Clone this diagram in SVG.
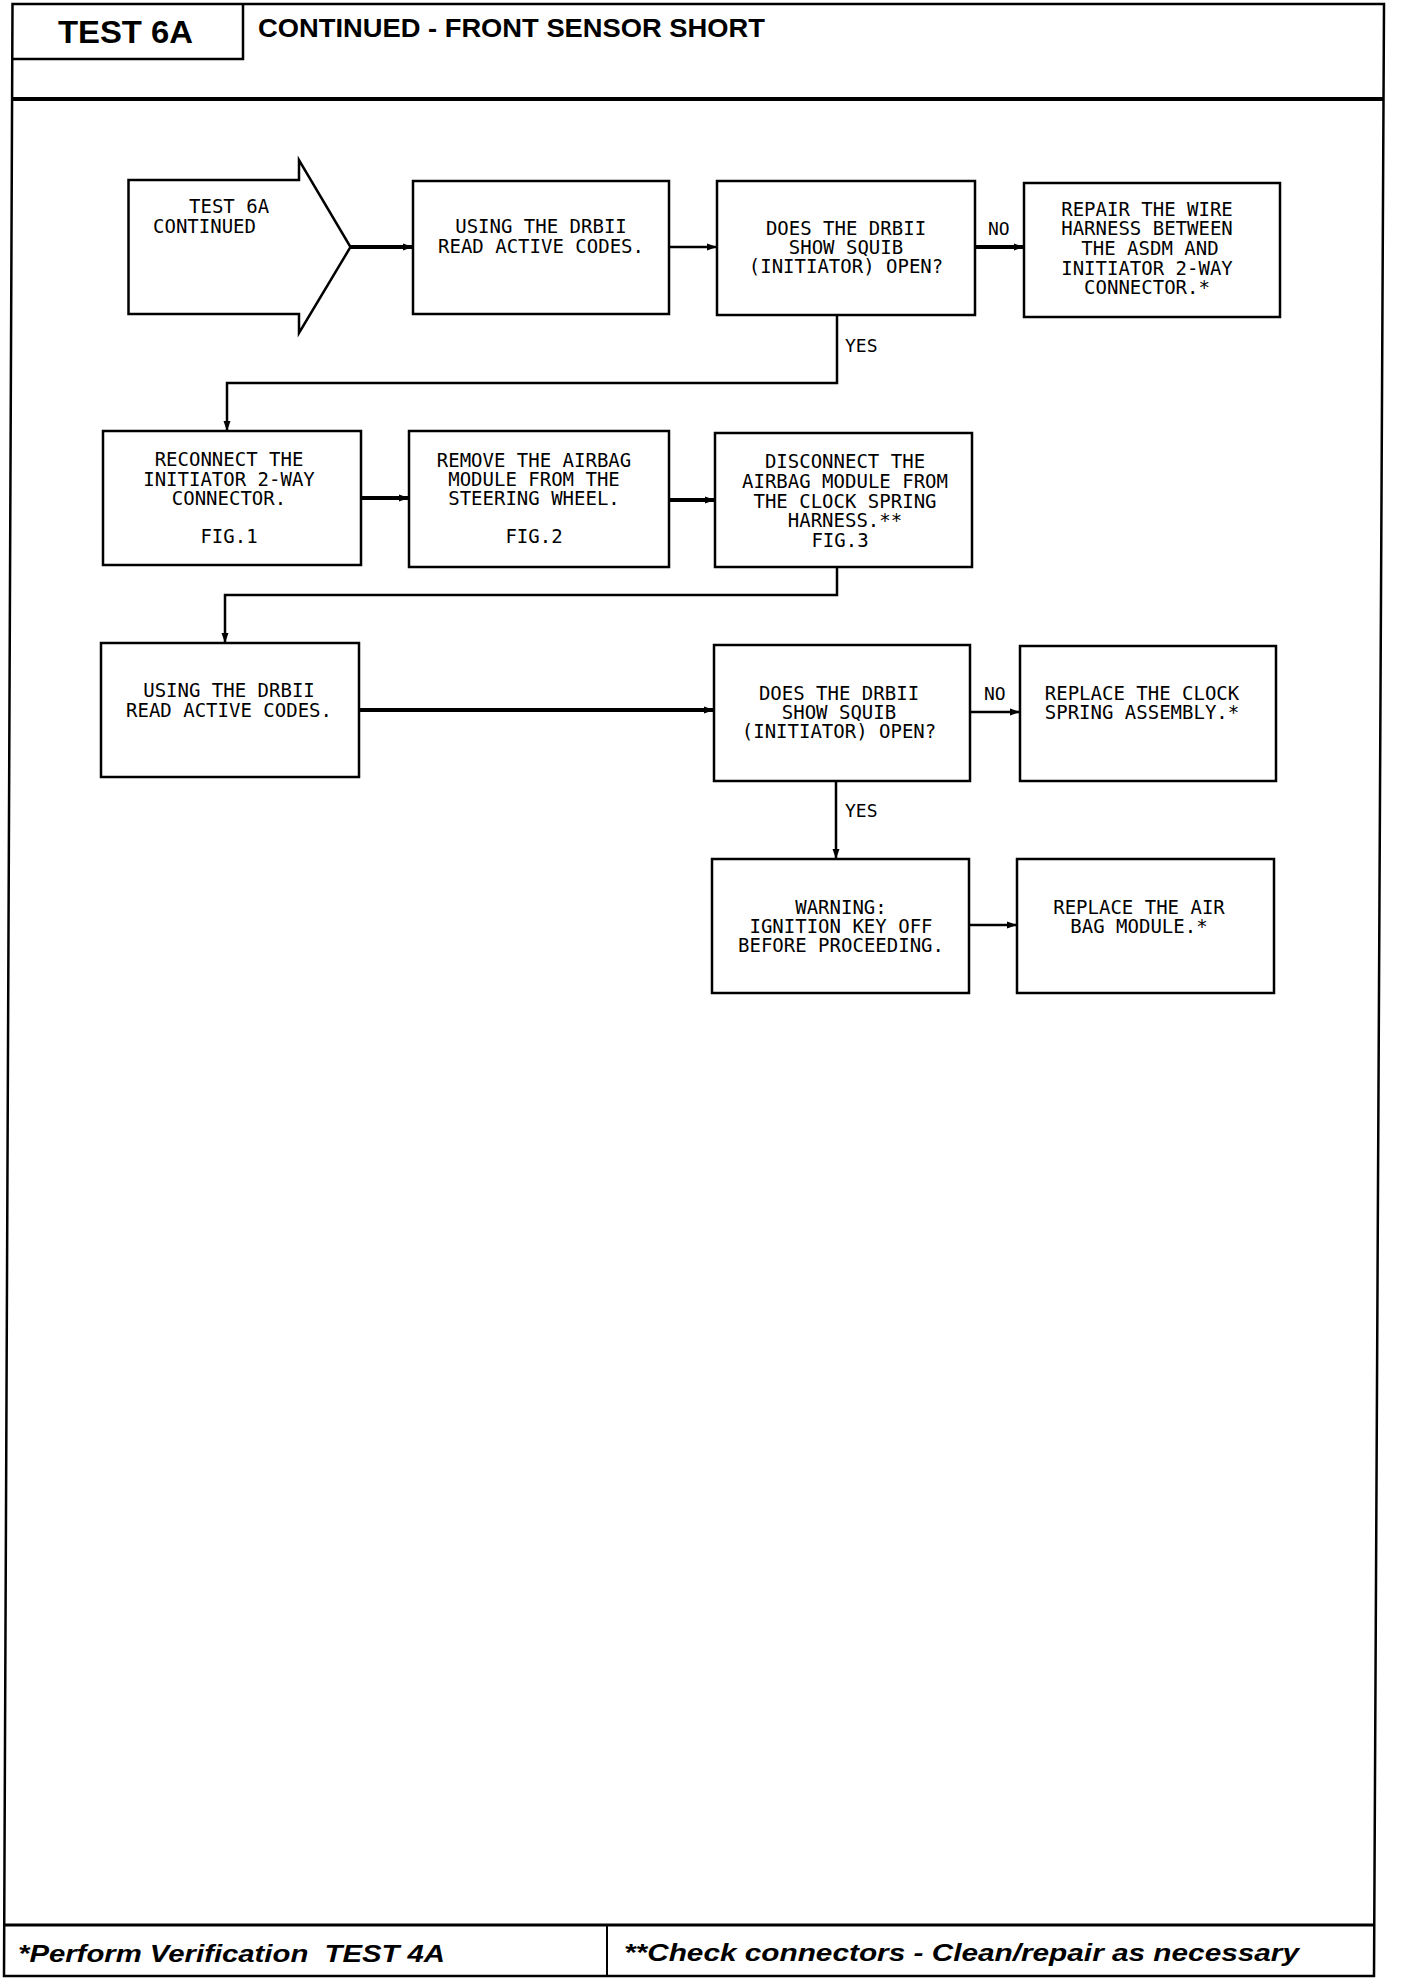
<svg xmlns="http://www.w3.org/2000/svg" width="1408" height="1978" viewBox="0 0 1408 1978">
<defs>
<style>
.frame{fill:none;stroke:#000;stroke-width:2.5}
.box{fill:#fff;stroke:#000;stroke-width:2.5}
.con{fill:none;stroke:#000;stroke-width:2.5}
.thick{stroke-width:4}
.t{font-family:"DejaVu Sans Mono","Liberation Mono",monospace;font-size:19px;fill:#000;text-anchor:middle}
.ts{font-family:"DejaVu Sans Mono","Liberation Mono",monospace;font-size:19px;fill:#000}
.lbl{font-family:"DejaVu Sans Mono","Liberation Mono",monospace;font-size:18px;fill:#000}
.hd{font-family:"Liberation Sans",Arial,sans-serif;font-weight:bold;fill:#000}
.ft{font-family:"Liberation Sans",Arial,sans-serif;font-weight:bold;font-style:italic;font-size:24px;fill:#000}
</style>
<marker id="ah" markerWidth="10" markerHeight="8" refX="9" refY="4" orient="auto" markerUnits="userSpaceOnUse">
<path d="M0,0.5 L10,4 L0,7.5 Z" fill="#000"/>
</marker>
</defs>
<rect width="1408" height="1978" fill="#fff"/>

<g id="page-frame">
<path class="frame" d="M12.5,4 L1384,4 L1374,1976 L4,1976 Z"/>
<line x1="12" y1="99" x2="1383" y2="99" stroke="#000" stroke-width="4"/>
<path class="frame" d="M12.5,59 L243,59 L243,4"/>
<line x1="5" y1="1925" x2="1374" y2="1925" stroke="#000" stroke-width="3"/>
<line x1="607" y1="1925" x2="607" y2="1976" stroke="#000" stroke-width="2"/>
</g>

<g id="header">
<text class="hd" x="58" y="43" font-size="32" textLength="135" lengthAdjust="spacingAndGlyphs">TEST 6A</text>
<text class="hd" x="258" y="37" font-size="25" textLength="507" lengthAdjust="spacingAndGlyphs">CONTINUED - FRONT SENSOR SHORT</text>
</g>

<g id="footer">
<text class="ft" x="18" y="1962" textLength="427" lengthAdjust="spacingAndGlyphs" xml:space="preserve">*Perform Verification  TEST 4A</text>
<text class="ft" x="624" y="1961" textLength="675" lengthAdjust="spacingAndGlyphs">**Check connectors - Clean/repair as necessary</text>
</g>

<g id="connectors">
<line class="con thick" x1="350" y1="247" x2="412" y2="247" marker-end="url(#ah)"/>
<line class="con" x1="669" y1="247" x2="716" y2="247" marker-end="url(#ah)"/>
<line class="con thick" x1="975" y1="247" x2="1023" y2="247" marker-end="url(#ah)"/>
<path class="con" d="M837,315 L837,383 L227,383 L227,430" marker-end="url(#ah)"/>
<line class="con thick" x1="361" y1="498" x2="408" y2="498" marker-end="url(#ah)"/>
<line class="con thick" x1="669" y1="500" x2="714" y2="500" marker-end="url(#ah)"/>
<path class="con" d="M837,567 L837,595 L225,595 L225,642" marker-end="url(#ah)"/>
<line class="con thick" x1="359" y1="710" x2="713" y2="710" marker-end="url(#ah)"/>
<line class="con" x1="970" y1="712" x2="1019" y2="712" marker-end="url(#ah)"/>
<line class="con" x1="836" y1="781" x2="836" y2="858" marker-end="url(#ah)"/>
<line class="con" x1="969" y1="925" x2="1016" y2="925" marker-end="url(#ah)"/>
<text class="lbl" x="988" y="235">NO</text>
<text class="lbl" x="845" y="352">YES</text>
<text class="lbl" x="984" y="700">NO</text>
<text class="lbl" x="845" y="817">YES</text>
</g>

<g id="n-start">
<path class="box" d="M128.5,180 L299,180 L299,160 L350.5,247 L299,333 L299,314 L128.5,314 Z"/>
<text class="ts" x="189" y="213">TEST 6A</text>
<text class="ts" x="153" y="233">CONTINUED</text>
</g>

<g id="n-read1">
<rect class="box" x="413" y="181" width="256" height="133"/>
<text class="t" x="541" y="233">USING THE DRBII</text>
<text class="t" x="541" y="253">READ ACTIVE CODES.</text>
</g>

<g id="n-q1">
<rect class="box" x="717" y="181" width="258" height="134"/>
<text class="t" x="846" y="235">DOES THE DRBII</text>
<text class="t" x="846" y="254">SHOW SQUIB</text>
<text class="t" x="846" y="273">(INITIATOR) OPEN?</text>
</g>

<g id="n-repair">
<rect class="box" x="1024" y="183" width="256" height="134"/>
<text class="t" x="1147" y="216">REPAIR THE WIRE</text>
<text class="t" x="1147" y="235">HARNESS BETWEEN</text>
<text class="t" x="1150" y="255">THE ASDM AND</text>
<text class="t" x="1147" y="275">INITIATOR 2-WAY</text>
<text class="t" x="1147" y="294">CONNECTOR.*</text>
</g>

<g id="n-reconnect">
<rect class="box" x="103" y="431" width="258" height="134"/>
<text class="t" x="229" y="466">RECONNECT THE</text>
<text class="t" x="229" y="486">INITIATOR 2-WAY</text>
<text class="t" x="229" y="505">CONNECTOR.</text>
<text class="t" x="229" y="543">FIG.1</text>
</g>

<g id="n-remove">
<rect class="box" x="409" y="431" width="260" height="136"/>
<text class="t" x="534" y="467">REMOVE THE AIRBAG</text>
<text class="t" x="534" y="486">MODULE FROM THE</text>
<text class="t" x="534" y="505">STEERING WHEEL.</text>
<text class="t" x="534" y="543">FIG.2</text>
</g>

<g id="n-disconnect">
<rect class="box" x="715" y="433" width="257" height="134"/>
<text class="t" x="845" y="468">DISCONNECT THE</text>
<text class="t" x="845" y="488">AIRBAG MODULE FROM</text>
<text class="t" x="845" y="508">THE CLOCK SPRING</text>
<text class="t" x="845" y="527">HARNESS.**</text>
<text class="t" x="840" y="547">FIG.3</text>
</g>

<g id="n-read2">
<rect class="box" x="101" y="643" width="258" height="134"/>
<text class="t" x="229" y="697">USING THE DRBII</text>
<text class="t" x="229" y="717">READ ACTIVE CODES.</text>
</g>

<g id="n-q2">
<rect class="box" x="714" y="645" width="256" height="136"/>
<text class="t" x="839" y="700">DOES THE DRBII</text>
<text class="t" x="839" y="719">SHOW SQUIB</text>
<text class="t" x="839" y="738">(INITIATOR) OPEN?</text>
</g>

<g id="n-clockspring">
<rect class="box" x="1020" y="646" width="256" height="135"/>
<text class="t" x="1142" y="700">REPLACE THE CLOCK</text>
<text class="t" x="1142" y="719">SPRING ASSEMBLY.*</text>
</g>

<g id="n-warning">
<rect class="box" x="712" y="859" width="257" height="134"/>
<text class="t" x="841" y="914">WARNING:</text>
<text class="t" x="841" y="933">IGNITION KEY OFF</text>
<text class="t" x="841" y="952">BEFORE PROCEEDING.</text>
</g>

<g id="n-airbag">
<rect class="box" x="1017" y="859" width="257" height="134"/>
<text class="t" x="1139" y="914">REPLACE THE AIR</text>
<text class="t" x="1139" y="933">BAG MODULE.*</text>
</g>
</svg>
